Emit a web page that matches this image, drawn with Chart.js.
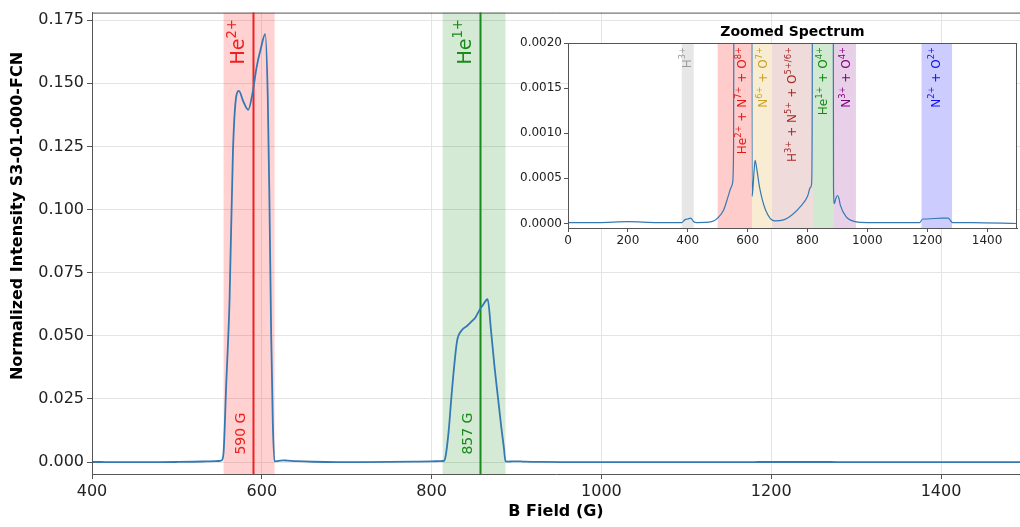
<!DOCTYPE html>
<html>
<head>
<meta charset="utf-8">
<script src="https://cdn.jsdelivr.net/npm/chart.js@4.4.1/dist/chart.umd.min.js"></script>
<style>
  html, body { margin: 0; padding: 0; background: #fff; }
  #wrap { position: relative; width: 1020px; height: 527px; }
  #mainChart { position: absolute; left: 0; top: 0; }
  #zoomChart { position: absolute; left: 505px; top: 20px; }
</style>
</head>
<body>
<div id="wrap">
  <canvas id="mainChart" width="1020" height="527"></canvas>
  <canvas id="zoomChart" width="515" height="240"></canvas>
</div>
<script>
// spectrum samples (B field in G, normalized intensity)
const bField = [
  0, 100, 200, 300, 380, 390, 400, 410, 420, 430, 480, 500, 520, 535, 545, 550,
  553, 555, 558, 562, 566, 570, 573, 578, 584, 589, 594, 599, 604, 607, 609, 611,
  613, 615, 618, 622, 625, 630, 640, 660, 690, 720, 750, 780, 800, 810, 814, 816,
  820, 823, 826, 830, 835, 842, 848, 852, 856, 860, 866, 870, 874, 878, 882, 885,
  887, 890, 895, 900, 905, 910, 930, 960, 1000, 1100, 1175, 1185, 1200, 1250, 1270, 1285,
  1350, 1500
];
const intensity = [
  0.00001, 0.00001, 0.00002, 0.00001, 0.00001, 0.00004, 0.00005, 0.00006, 0.00002, 0.00001, 0.00002, 0.00006, 0.00015, 0.0003, 0.0004, 0.00045,
  0.0008, 0.004, 0.03, 0.064, 0.123, 0.145, 0.147, 0.143, 0.1395, 0.146, 0.1566, 0.164, 0.1695, 0.145, 0.103, 0.051,
  0.015, 0.0003, 0.0004, 0.0006, 0.0007, 0.00062, 0.0004, 0.00015, 0.00003, 0.00004, 0.0001, 0.0002, 0.0003, 0.0004, 0.00045, 0.0015,
  0.012, 0.0245, 0.036, 0.048, 0.052, 0.054, 0.056, 0.0575, 0.06, 0.062, 0.0645, 0.052, 0.038, 0.026, 0.014, 0.006,
  0.0004, 0.00022, 0.00028, 0.00031, 0.00028, 0.0002, 0.00007, 0.00002, 0.00001, 0.00001, 0.00001, 0.00005, 0.00005, 0.00006, 0.00006, 0.00001,
  0.00001, 0.0
];

const mainXTicks = [400, 600, 800, 1000, 1200, 1400];
const mainYTicks = [0, 0.025, 0.05, 0.075, 0.1, 0.125, 0.15, 0.175];

// helium windows and peak positions
const peakIon = ["He^{2+}", "He^{1+}"];
const peakField = [590, 857];
const peakBandFrom = [555, 813];
const peakBandTo = [615, 887];

const zoomXTicks = [0, 200, 400, 600, 800, 1000, 1200, 1400];
const zoomYTicks = [0, 0.0005, 0.001, 0.0015, 0.002];

const ionGroups = [
  "H^{3+}",
  "He^{2+} + N^{7+} + O^{8+}",
  "N^{6+} + O^{7+}",
  "H^{3+} + N^{5+} + O^{5+/6+}",
  "He^{1+} + O^{4+}",
  "N^{3+} + O^{4+}",
  "N^{2+} + O^{2+}"
];
const groupFrom = [380, 500, 615, 681, 818, 887, 1181];
const groupTo = [420, 615, 681, 818, 887, 962, 1283];
const groupLabelAt = [400, 585, 655, 752, 855, 932, 1231];

const FONT = "'DejaVu Sans', sans-serif";
const lineColor = "#3579b4";
const peakColors = ["#ee2020", "#1a8a1a"];
const peakFills = ["rgba(255,0,0,0.18)", "rgba(0,128,0,0.17)"];
const groupText = ["#9a9a9a", "#e01818", "#c9a227", "#a52a2a", "#108a10", "#800080", "#1010ee"];
const groupFills = [
  "rgba(160,160,160,0.25)", "rgba(255,0,0,0.2)", "rgba(218,165,32,0.2)",
  "rgba(165,42,42,0.17)", "rgba(0,128,0,0.18)", "rgba(128,0,128,0.18)", "rgba(0,0,255,0.2)"
];

const points = bField.map((b, i) => ({ x: b, y: intensity[i] }));

// text with ^{...} superscripts, drawn rotated to read bottom-to-top
function drawIonText(ctx, str, x, y, size, color, alignEnd) {
  const parts = str.split(/(\^\{[^}]*\})/).filter(Boolean).map((p) =>
    p.startsWith("^{") ? { t: p.slice(2, -1), sup: true } : { t: p, sup: false });
  const supSize = size * 0.7;
  let total = 0;
  for (const p of parts) {
    ctx.font = `${p.sup ? supSize : size}px ${FONT}`;
    p.w = ctx.measureText(p.t).width;
    total += p.w;
  }
  ctx.save();
  ctx.translate(x, y);
  ctx.rotate(-Math.PI / 2);
  ctx.fillStyle = color;
  ctx.textBaseline = "middle";
  ctx.textAlign = "left";
  let pos = alignEnd ? -total : 0;
  for (const p of parts) {
    ctx.font = `${p.sup ? supSize : size}px ${FONT}`;
    ctx.fillText(p.t, pos, p.sup ? -size * 0.38 : 0);
    pos += p.w;
  }
  ctx.restore();
}

function fillBand(ctx, area, xs, from, to, color) {
  const a = Math.max(xs.getPixelForValue(from), area.left);
  const b = Math.min(xs.getPixelForValue(to), area.right);
  ctx.fillStyle = color;
  ctx.fillRect(a, area.top, b - a, area.bottom - area.top);
}

const mainDecor = {
  id: "mainDecor",
  beforeDatasetsDraw(chart) {
    const { ctx, chartArea: area, scales: { x } } = chart;
    ctx.save();
    peakField.forEach((f, i) => {
      fillBand(ctx, area, x, peakBandFrom[i], peakBandTo[i], peakFills[i]);
      const px = Math.round(x.getPixelForValue(f)) + 0.5;
      ctx.strokeStyle = peakColors[i];
      ctx.lineWidth = 2;
      ctx.beginPath();
      ctx.moveTo(px, area.top);
      ctx.lineTo(px, area.bottom);
      ctx.stroke();
    });
    ctx.restore();
  },
  afterDraw(chart) {
    const { ctx, chartArea: area, scales: { x, y } } = chart;
    ctx.save();
    // frame
    ctx.strokeStyle = "#555";
    ctx.lineWidth = 1;
    ctx.beginPath();
    ctx.moveTo(area.left + 0.5, area.bottom);
    ctx.lineTo(area.left + 0.5, area.top + 0.5);
    ctx.lineTo(area.right, area.top + 0.5);
    ctx.stroke();

    peakField.forEach((f, i) => {
      const px = x.getPixelForValue(f);
      drawIonText(ctx, peakIon[i], px - 14, area.top + 52, 19, peakColors[i], false);
      drawIonText(ctx, `${f} G`, px - 12, y.getPixelForValue(0.003), 14, peakColors[i], false);
    });

    ctx.fillStyle = "#000";
    ctx.font = `bold 16px ${FONT}`;
    ctx.textAlign = "center";
    ctx.textBaseline = "middle";
    ctx.fillText("B Field (G)", (area.left + area.right) / 2, 512);
    ctx.translate(18, 216);
    ctx.rotate(-Math.PI / 2);
    ctx.fillText("Normalized Intensity S3-01-000-FCN", 0, 0);
    ctx.restore();
  }
};

new Chart(document.getElementById("mainChart"), {
  type: "line",
  data: {
    datasets: [{
      data: points,
      borderColor: lineColor,
      borderWidth: 1.8,
      pointRadius: 0,
      cubicInterpolationMode: "monotone",
      fill: false
    }]
  },
  options: {
    responsive: false,
    animation: false,
    devicePixelRatio: 1,
    layout: { padding: { top: 10, left: 0, right: 0, bottom: 0 } },
    plugins: { legend: { display: false }, tooltip: { enabled: false } },
    scales: {
      x: {
        type: "linear",
        min: 400,
        max: 1493,
        afterBuildTicks: (s) => { s.ticks = mainXTicks.map((v) => ({ value: v })); },
        afterFit: (s) => { s.height = 53; },
        grid: { color: "#e4e4e4", tickColor: "#555", tickLength: 5 },
        border: { color: "#555" },
        ticks: { color: "#222", font: { family: FONT, size: 16 }, padding: 3, maxRotation: 0, callback: (v) => String(v) }
      },
      y: {
        min: -0.0047,
        max: 0.178,
        afterBuildTicks: (s) => { s.ticks = mainYTicks.map((v) => ({ value: v })); },
        afterFit: (s) => { s.width = 92; },
        grid: { color: "#e4e4e4", tickColor: "#555", tickLength: 5 },
        border: { color: "#555" },
        ticks: { color: "#222", font: { family: FONT, size: 16 }, padding: 3, callback: (v) => v.toFixed(3) }
      }
    }
  },
  plugins: [mainDecor]
});

const zoomDecor = {
  id: "zoomDecor",
  beforeDraw(chart) {
    const { ctx, chartArea: area } = chart;
    ctx.save();
    ctx.fillStyle = "#fff";
    ctx.fillRect(area.left, area.top, area.right - area.left, area.bottom - area.top);
    ctx.restore();
  },
  beforeDatasetsDraw(chart) {
    const { ctx, chartArea: area, scales: { x } } = chart;
    ctx.save();
    groupFrom.forEach((f, i) => fillBand(ctx, area, x, f, groupTo[i], groupFills[i]));
    ctx.restore();
  },
  afterDraw(chart) {
    const { ctx, chartArea: area, scales: { x } } = chart;
    ctx.save();
    ionGroups.forEach((g, i) => {
      drawIonText(ctx, g, x.getPixelForValue(groupLabelAt[i]), area.top + 4, 12, groupText[i], true);
    });
    ctx.strokeStyle = "#555";
    ctx.lineWidth = 1;
    ctx.strokeRect(area.left + 0.5, area.top + 0.5, area.right - area.left - 1, area.bottom - area.top);
    ctx.fillStyle = "#000";
    ctx.font = `bold 14px ${FONT}`;
    ctx.textAlign = "center";
    ctx.textBaseline = "middle";
    ctx.fillText("Zoomed Spectrum", (area.left + area.right) / 2, area.top - 11);
    ctx.restore();
  }
};

new Chart(document.getElementById("zoomChart"), {
  type: "line",
  data: {
    datasets: [{
      data: points,
      borderColor: lineColor,
      borderWidth: 1.2,
      pointRadius: 0,
      cubicInterpolationMode: "monotone",
      fill: false
    }]
  },
  options: {
    responsive: false,
    animation: false,
    devicePixelRatio: 1,
    layout: { padding: { top: 23, left: 0, right: 3, bottom: 0 } },
    plugins: { legend: { display: false }, tooltip: { enabled: false } },
    scales: {
      x: {
        type: "linear",
        min: 0,
        max: 1500,
        afterBuildTicks: (s) => { s.ticks = zoomXTicks.map((v) => ({ value: v })); },
        afterFit: (s) => { s.height = 32; },
        grid: { drawOnChartArea: false, tickColor: "#555", tickLength: 4 },
        border: { color: "#555" },
        ticks: { color: "#222", font: { family: FONT, size: 12 }, padding: 2, maxRotation: 0, callback: (v) => String(v) }
      },
      y: {
        min: -0.00005,
        max: 0.002,
        afterBuildTicks: (s) => { s.ticks = zoomYTicks.map((v) => ({ value: v })); },
        afterFit: (s) => { s.width = 63; },
        grid: { drawOnChartArea: false, tickColor: "#555", tickLength: 4 },
        border: { color: "#555" },
        ticks: { color: "#222", font: { family: FONT, size: 12 }, padding: 2, callback: (v) => v.toFixed(4) }
      }
    }
  },
  plugins: [zoomDecor]
});
</script>
</body>
</html>
